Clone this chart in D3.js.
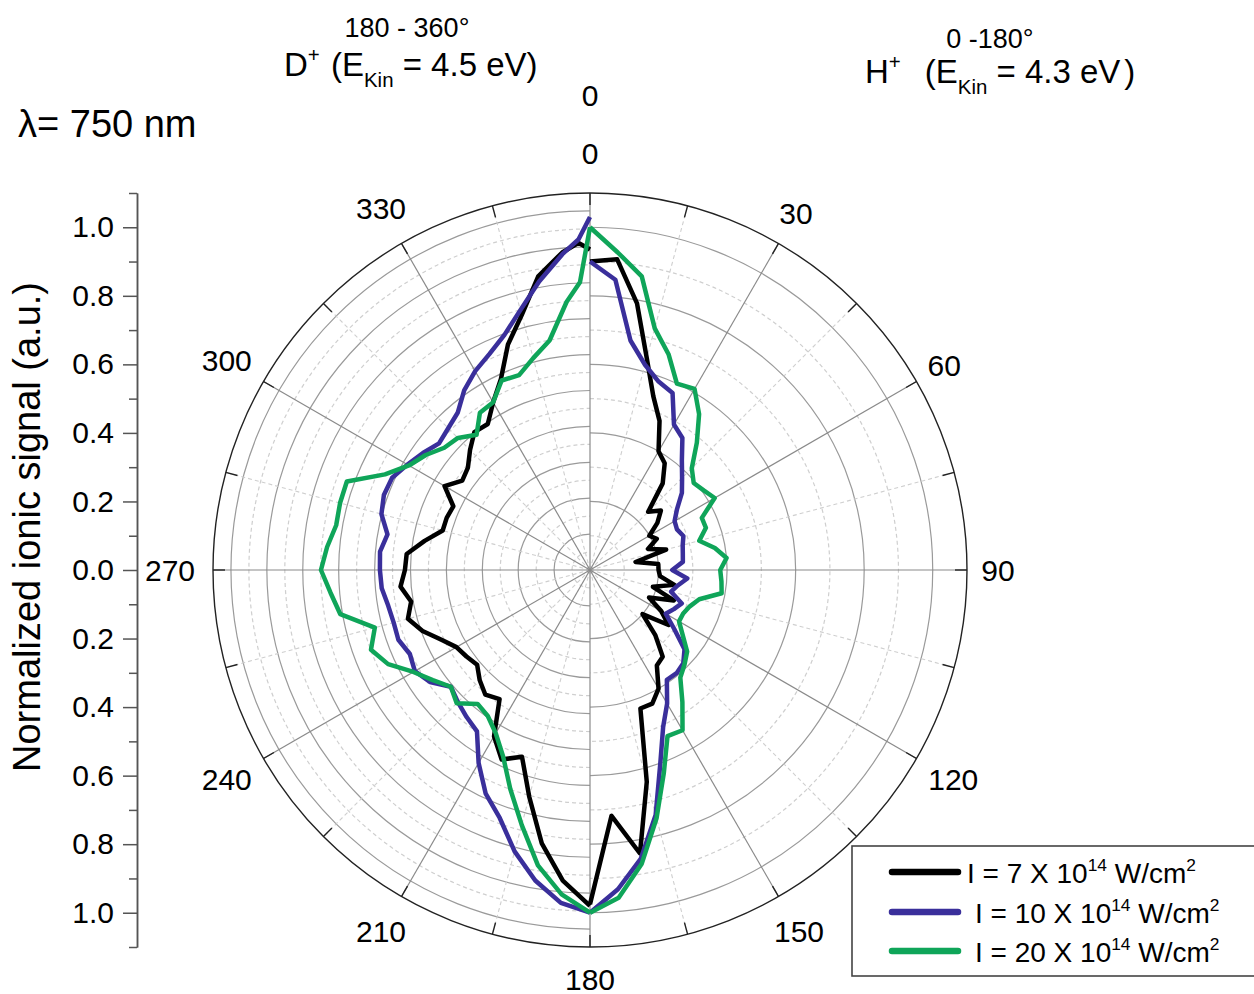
<!DOCTYPE html>
<html><head><meta charset="utf-8">
<script src="https://cdn.jsdelivr.net/npm/d3@7"></script>
<style>
body{margin:0;background:#fff;}
svg{display:block;font-family:"Liberation Sans",Arial,Helvetica,sans-serif;}
</style>
</head><body>
<svg id="chart" width="1254" height="994"></svg>
<script>
// ---------- data ----------
const hAngles = [0,5,10,15,20,25,30,35,40,45,50,55,60,65,70,75,80,85,90,95,100,105,110,115,120,125,130,135,140,145,150,155,160,165,170,175,180];
const dAngles = [180,185,190,195,200,205,210,215,220,225,230,235,240,245,250,255,260,265,270,275,280,285,290,295,300,305,310,315,320,325,330,335,340,345,350,355,358,360];

// H+ (0-180°)
const h7  = [0.90,0.91,0.79,0.64,0.54,0.48,0.40,0.38,0.33,0.24,0.27,0.24,0.20,0.215,0.18,0.23,0.135,0.20,0.20,0.205,0.25,0.19,0.26,0.19,0.24,0.28,0.20,0.27,0.33,0.34,0.40,0.43,0.43,0.64,0.84,0.72,0.975];
const h10 = [0.90,0.85,0.68,0.62,0.585,0.57,0.49,0.47,0.417,0.38,0.35,0.31,0.285,0.28,0.29,0.28,0.275,0.272,0.24,0.285,0.26,0.245,0.285,0.27,0.255,0.30,0.36,0.385,0.393,0.391,0.45,0.505,0.60,0.74,0.855,0.935,1.00];
const h20 = [1.00,0.93,0.87,0.73,0.67,0.60,0.61,0.555,0.485,0.42,0.395,0.405,0.42,0.36,0.36,0.33,0.37,0.40,0.38,0.385,0.39,0.33,0.31,0.30,0.30,0.33,0.37,0.39,0.41,0.47,0.54,0.535,0.63,0.75,0.87,0.96,1.00];
// D+ (180-360°)
const d7  = [0.98,0.91,0.81,0.685,0.58,0.61,0.56,0.46,0.475,0.455,0.43,0.44,0.45,0.48,0.52,0.55,0.53,0.555,0.54,0.537,0.49,0.445,0.445,0.44,0.49,0.455,0.465,0.495,0.525,0.52,0.565,0.615,0.70,0.77,0.87,0.93,0.955,0.935];
const d10 = [1.00,0.975,0.92,0.85,0.77,0.72,0.65,0.575,0.56,0.545,0.53,0.57,0.59,0.58,0.595,0.593,0.598,0.61,0.613,0.615,0.60,0.63,0.64,0.637,0.615,0.595,0.575,0.585,0.60,0.64,0.67,0.695,0.73,0.785,0.855,0.925,0.965,1.03];
const d20 = [1.00,0.95,0.875,0.77,0.68,0.60,0.55,0.52,0.51,0.55,0.53,0.56,0.595,0.65,0.68,0.65,0.74,0.76,0.785,0.77,0.752,0.755,0.755,0.66,0.61,0.585,0.555,0.545,0.515,0.56,0.565,0.61,0.605,0.64,0.68,0.785,0.84,1.00];

const seriesLabels = ["7", "10", "20"];
const seriesColors = ["#000000", "#3a2f9b", "#0fa559"];
const angleTicks = [0,30,60,90,120,150,180,210,240,270,300,330];
const minorAngleTicks = [15,45,75,105,135,165,195,225,255,285,315,345];
const gridH = [0.1,0.2,0.3,0.4,0.5,0.6,0.7,0.8,0.9,1.0];
const gridD = [0.05,0.1,0.15,0.2,0.25,0.3,0.35,0.4,0.45,0.5,0.55,0.6,0.65,0.7,0.75,0.8,0.85,0.9,0.95,1.0];
const yMajor = [-1.0,-0.8,-0.6,-0.4,-0.2,0,0.2,0.4,0.6,0.8,1.0];
const yMinor = [-1.1,-0.9,-0.7,-0.5,-0.3,-0.1,0.1,0.3,0.5,0.7,0.9,1.1];

// ---------- layout ----------
const cx = 590, cy = 570, R = 377;
const svg = d3.select("#chart");
svg.append("rect").attr("width",1254).attr("height",994).attr("fill","#fff");

const rH = d3.scaleLinear().domain([0,1.1]).range([0,R]);
const rD = d3.scaleLinear().domain([0,1.05]).range([0,R]);
const rad = a => a*Math.PI/180;

const g = svg.append("g").attr("transform",`translate(${cx},${cy})`);

function halfArc(r, right){
  return right ? `M0,${-r}A${r},${r} 0 0 1 0,${r}` : `M0,${r}A${r},${r} 0 0 1 0,${-r}`;
}
gridH.forEach(v=>{
  const major = Math.abs(Math.round(v*10) % 2) === 0;
  g.append("path").attr("d",halfArc(rH(v),true)).attr("fill","none")
   .attr("stroke", major ? "#9a9a9a" : "#cfcfcf").attr("stroke-width",1.2)
   .attr("stroke-dasharray", major ? null : "4,3");
});
gridD.forEach(v=>{
  const major = Math.abs(Math.round(v*100) % 10) === 0;
  g.append("path").attr("d",halfArc(rD(v),false)).attr("fill","none")
   .attr("stroke", major ? "#9a9a9a" : "#cfcfcf").attr("stroke-width",1.2)
   .attr("stroke-dasharray", major ? null : "4,3");
});
minorAngleTicks.forEach(a=>{
  g.append("line").attr("x1",0).attr("y1",0)
   .attr("x2",R*Math.sin(rad(a))).attr("y2",-R*Math.cos(rad(a)))
   .attr("stroke","#cfcfcf").attr("stroke-width",1.1).attr("stroke-dasharray","4,3");
});
angleTicks.forEach(a=>{
  g.append("line").attr("x1",0).attr("y1",0)
   .attr("x2",R*Math.sin(rad(a))).attr("y2",-R*Math.cos(rad(a)))
   .attr("stroke","#8a8a8a").attr("stroke-width",1.2);
});
g.append("circle").attr("r",R).attr("fill","none").attr("stroke","#222").attr("stroke-width",1.4);
angleTicks.concat(minorAngleTicks).forEach(a=>{
  const s=Math.sin(rad(a)), c=Math.cos(rad(a));
  g.append("line").attr("x1",(R-12)*s).attr("y1",-(R-12)*c).attr("x2",R*s).attr("y2",-R*c)
   .attr("stroke","#222").attr("stroke-width",1.4);
});
angleTicks.forEach(a=>{
  const t = String(a);
  const s = Math.abs(Math.sin(rad(a)));
  let rr = t.length===2 ? 416 - 8*s : (t.length===3 ? 416 + 4*s : 417);
  if(a===180) rr = 409;
  g.append("text").attr("x",rr*Math.sin(rad(a))).attr("y",-rr*Math.cos(rad(a)))
   .attr("text-anchor","middle").attr("dominant-baseline","central")
   .attr("font-size",30).attr("fill","#000").text(t);
});
svg.append("text").attr("x",cx).attr("y",95).attr("text-anchor","middle")
   .attr("dominant-baseline","central").attr("font-size",30).text("0");

// ---------- data lines ----------
const line = d3.lineRadial().angle(d=>rad(d[0])).radius(d=>rH(d[1])).curve(d3.curveLinear);
const hSeries = [h7,h10,h20], dSeries = [d7,d10,d20];
[0,1,2].forEach(i=>{
  g.append("path").datum(hAngles.map((a,j)=>[a,hSeries[i][j]]))
   .attr("d",line).attr("fill","none").attr("stroke",seriesColors[i])
   .attr("stroke-width",4.5).attr("stroke-linejoin","round");
  g.append("path").datum(dAngles.map((a,j)=>[a,dSeries[i][j]]))
   .attr("d",line).attr("fill","none").attr("stroke",seriesColors[i])
   .attr("stroke-width",4.5).attr("stroke-linejoin","round");
});

// ---------- left y axis ----------
const yScale = d3.scaleLinear().domain([-1.1,1.1]).range([cy+R, cy-R]);
const yAx = svg.append("g").attr("transform","translate(137,0)")
  .call(d3.axisLeft(yScale).tickValues(yMajor).tickFormat(d=>Math.abs(d).toFixed(1))
        .tickSize(14).tickSizeOuter(0).tickPadding(9));
yAx.selectAll("text").attr("font-size",30).attr("fill","#000").attr("font-family","Liberation Sans, Arial, sans-serif");
yAx.selectAll("line,path").attr("stroke","#555").attr("stroke-width",1.5);
const yAxMinor = svg.append("g").attr("transform","translate(137,0)")
  .call(d3.axisLeft(yScale).tickValues(yMinor).tickFormat("").tickSize(8).tickSizeOuter(0));
yAxMinor.selectAll("line,path").attr("stroke","#555").attr("stroke-width",1.5);

svg.append("text").attr("transform","translate(40,527) rotate(-90)")
   .attr("text-anchor","middle").attr("font-size",38).attr("fill","#000")
   .text("Normalized ionic signal (a.u.)");

// ---------- rich text helper ----------
function rich(sel, parts, F){
  let shift = 0;
  parts.forEach(p=>{
    const ts = sel.append("tspan").text(p.t);
    let target = 0, size = F;
    if(p.sup){ target = -0.42*F; size = 0.62*F; }
    if(p.sub){ target = 0.32*F; size = 0.62*F; }
    ts.attr("dy", target - shift).attr("font-size", size);
    if(p.dx) ts.attr("dx", p.dx);
    shift = target;
  });
}

// ---------- titles ----------
svg.append("text").attr("x",407).attr("y",37).attr("text-anchor","middle").attr("font-size",27).text("180 - 360°");
rich(svg.append("text").attr("x",284).attr("y",76).attr("font-size",33).attr("xml:space","preserve"),
  [{t:"D"},{t:"+",sup:true},{t:" (E",dx:2},{t:"Kin",sub:true},{t:" = 4.5 eV)"}],33);
svg.append("text").attr("x",990).attr("y",48).attr("text-anchor","middle").attr("font-size",27).text("0 -180°");
rich(svg.append("text").attr("x",865).attr("y",83).attr("font-size",33).attr("xml:space","preserve"),
  [{t:"H"},{t:"+",sup:true},{t:"(E",dx:24},{t:"Kin",sub:true},{t:" = 4.3 eV"},{t:")",dx:4}],33);
svg.append("text").attr("x",18).attr("y",137).attr("font-size",38).text("λ= 750 nm");

// ---------- legend ----------
const lg = svg.append("g");
lg.append("rect").attr("x",852).attr("y",846).attr("width",420).attr("height",130)
  .attr("fill","#fff").attr("stroke","#444").attr("stroke-width",1.6);
const legY = [872,912,951];
const legX = [967,975,975];
seriesLabels.forEach((s,i)=>{
  lg.append("line").attr("x1",892).attr("x2",958).attr("y1",legY[i]).attr("y2",legY[i])
    .attr("stroke",seriesColors[i]).attr("stroke-width",6.5).attr("stroke-linecap","round");
  rich(lg.append("text").attr("x",legX[i]).attr("y",legY[i]+11).attr("font-size",28).attr("xml:space","preserve"),
    [{t:`I = ${s} X 10`},{t:"14",sup:true},{t:" W/cm"},{t:"2",sup:true}],28);
});
</script>
</body></html>
